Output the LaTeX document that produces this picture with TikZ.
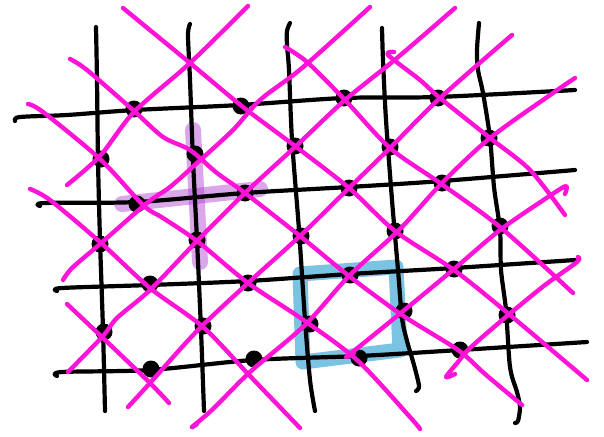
\documentclass[tikz,border=0pt]{standalone}
\usepackage{tikz}

\definecolor{hotpink}{RGB}{255,20,215}
\definecolor{lilac}{RGB}{175,60,210}
\definecolor{skyblue}{RGB}{100,184,222}

\begin{document}
\begin{tikzpicture}[x=1pt, y=-1pt,
	wire/.style={line width=4.2pt, line cap=round, line join=round},
	diag/.style={hotpink, line width=4.4pt, line cap=round, line join=round},
	glow/.style={line width=16pt, line cap=round, line join=round},
	qubit/.style={fill=black}]
	\useasboundingbox (0,0) rectangle (604,436);
	
	\draw[glow, lilac, opacity=0.45] (193,130) -- (200,262);
	\draw[glow, lilac, opacity=0.45] (122,204) -- (260,189);
	\draw[glow, skyblue, opacity=0.85, line width=15pt] (300,274) -- (396,267) -- (400,350) -- (303,362) -- cycle;
	
	\draw[wire] plot[smooth] coordinates {(96,27) (97,80) (98,160) (100,240) (103,330) (105,411)};
	\draw[wire] plot[smooth] coordinates {(190,24) (188,35) (190,80) (193,160) (197,240) (201,330) (204,411)};
	\draw[wire] plot[smooth] coordinates {(290,23) (287,31) (287,45) (289,70) (292,140) (299,230) (305,320) (310,380) (315,411)};
	\draw[wire] plot[smooth] coordinates {(382,28) (383,60) (386,120) (392,200) (398,270) (402,318) (407,341) (414,365) (419,386) (416,391)};
	\draw[wire] plot[smooth] coordinates {(479,23) (477,50) (478,70) (483,93) (490,138) (494,187) (500,230) (501,270) (506,310) (510,367) (517,392) (520,407) (518,421) (515,423)};
	
	\draw[wire] plot[smooth] coordinates {(15,121) (20,117) (67,115) (135,110) (240,105) (344,98) (437,97) (575,90)};
	\draw[wire] plot[smooth] coordinates {(40,206) (45,203) (137,202) (245,193) (349,187) (442,181) (575,170)};
	\draw[wire] plot[smooth] coordinates {(57,291) (62,288) (150,285) (248,281) (350,274) (454,268) (575,260)};
	\draw[wire] plot[smooth] coordinates {(57,376) (62,372) (150,370) (253,360) (359,356) (460,350) (587,342)};
	
	\foreach \p in {(134,109), (241,106), (344,98), (438,98),
		(101,159), (195,154), (295,146), (390,147), (489,138),
		(137,204), (245,193), (349,188), (442,183),
		(100,244), (197,240), (301,236), (395,231), (500,226),
		(150,284), (248,283), (350,275), (454,269),
		(104,332), (203,326), (310,324), (404,311), (507,315),
		(151,369), (254,359), (359,358), (460,350)}
		\fill[qubit] \p circle[radius=8.5pt];
	
	\draw[diag] plot[smooth] coordinates {(67,185) (100,156) (134,112) (190,63) (248,6)};
	\draw[diag] plot[smooth] coordinates {(63,280) (72,268) (100,244) (147,203) (170,187) (197,163) (233,130) (260,100) (302,68) (370,7)};
	\draw[diag] plot[smooth] coordinates {(68,372) (103,336) (117,318) (150,290) (197,241) (245,193) (295,147) (345,100) (397,58) (455,8)};
	\draw[diag] plot[smooth] coordinates {(128,407) (150,383) (197,331) (248,283) (300,236) (349,188) (390,148) (440,98) (512,35)};
	\draw[diag] plot[smooth] coordinates {(197,424) (192,427) (213,409) (250,372) (305,325) (349,276) (399,230) (442,183) (490,138) (553,93) (575,78)};
	\draw[diag] plot[smooth] coordinates {(354,353) (346,357) (360,346) (402,312) (454,269) (500,230) (548,197) (566,186) (565,194)};
	\draw[diag] plot[smooth] coordinates {(455,374) (446,377) (458,362) (470,348) (507,316) (545,285) (577,262) (578,257)};
	
	\draw[diag] plot[smooth] coordinates {(67,304) (103,338) (150,383) (169,403)};
	\draw[diag] plot[smooth] coordinates {(30,189) (50,200) (100,242) (150,288) (203,327) (250,376) (300,428)};
	\draw[diag] plot[smooth] coordinates {(28,104) (43,112) (100,159) (143,205) (163,218) (197,241) (248,283) (302,319) (357,360) (410,417) (420,429)};
	\draw[diag] plot[smooth] coordinates {(70,59) (87,70) (133,110) (163,137) (190,150) (217,173) (245,193) (300,236) (349,276) (402,315) (458,350) (485,374) (522,405)};
	\draw[diag] plot[smooth] coordinates {(123,8) (190,63) (243,107) (295,146) (349,188) (395,231) (454,270) (510,315) (587,380)};
	\draw[diag] plot[smooth] coordinates {(285,47) (307,62) (345,100) (390,148) (440,183) (500,227) (573,293)};
	\draw[diag] plot[smooth] coordinates {(394,52) (388,55) (420,80) (440,98) (490,138) (530,170) (565,215)};
\end{tikzpicture}
\end{document}
